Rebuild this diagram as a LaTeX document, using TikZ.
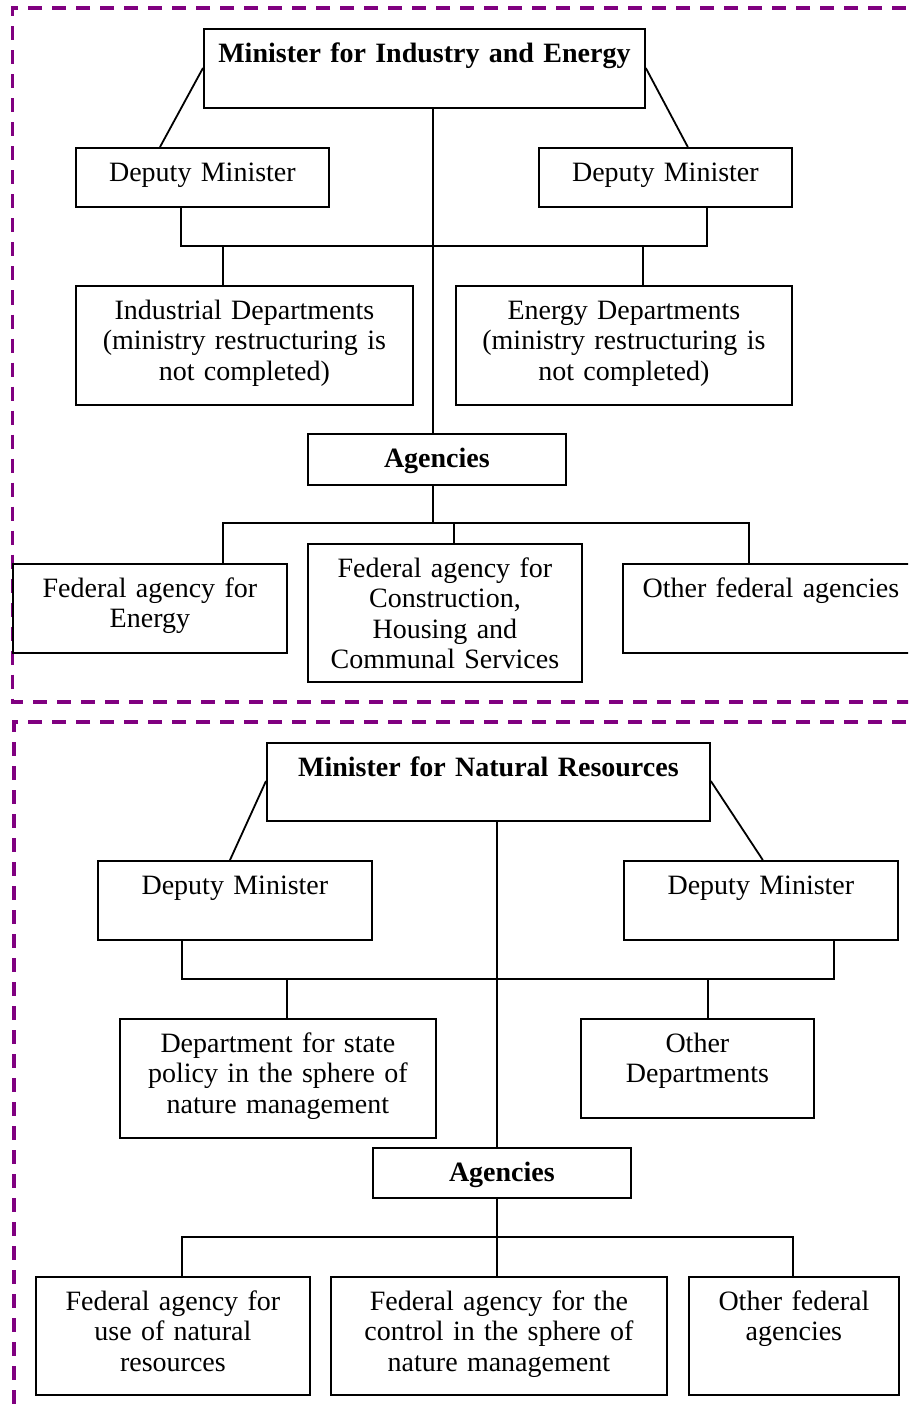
\documentclass[tikz,border=0pt]{standalone}
\usepackage{fontspec}
\setmainfont{Liberation Serif}
\definecolor{framepurple}{HTML}{800080}
\begin{document}
\begin{tikzpicture}[x=1pt,y=-1pt,
  every node/.style={font=\fontsize{28pt}{30.5pt}\selectfont},
  box/.style={draw, line width=1.8pt, fill=white, inner sep=0pt, anchor=north west, align=center, text height=33.5pt},
  conn/.style={line width=1.8pt},
  frame/.style={draw=framepurple, line width=3.3pt, dash pattern=on 14pt off 10pt}]
\useasboundingbox (0,0) rectangle (908,1412);
\clip (0,0) rectangle (908,1412);
% frames
\draw[frame] (930,8) -- (12.5,8) -- (12.5,702) -- (930,702);
\draw[frame] (930,722) -- (14,722) -- (14,1430);
% ---------- top section ----------
\node[box, text width=441pt, text depth=45.5pt] (mA) at (203,28) {\bfseries Minister for Industry and Energy};
\node[box, text width=253pt, text depth=25.5pt] (dA1) at (75,147) {Deputy Minister};
\node[box, text width=253pt, text depth=25.5pt] (dA2) at (538,147) {Deputy Minister};
\node[box, text width=337pt, text depth=85.5pt] (iA) at (75,285) {Industrial Departments\\(ministry restructuring is\\not completed)};
\node[box, text width=336pt, text depth=85.5pt] (eA) at (455,285) {Energy Departments\\(ministry restructuring is\\not completed)};
\node[box, text width=258pt, text depth=17.5pt] (agA) at (307,433) {\bfseries Agencies};
\node[box, text width=274pt, text depth=55.5pt] (f1A) at (12,563) {Federal agency for\\Energy};
\node[box, text width=274pt, text depth=104.5pt] (f2A) at (307,543) {Federal agency for\\Construction,\\Housing and\\Communal Services};
\node[box, text width=296pt, text depth=55.5pt] (f3A) at (622,563) {Other federal agencies};
\coordinate (cA) at (433,246);
\coordinate (bAL) at (181,246);
\coordinate (bAR) at (707,246);
\coordinate (tAI) at (223,246);
\coordinate (tAE) at (643,246);
\coordinate (gA) at (433,523);
\coordinate (gAL) at (223,523);
\coordinate (gAM) at (454,523);
\coordinate (gAR) at (749,523);
\draw[conn] ([yshift=-40pt]mA.north west) -- ([xshift=85pt]dA1.north west);
\draw[conn] ([yshift=-40pt]mA.north east) -- ([xshift=-105pt]dA2.north east);
\draw[conn] (mA.south -| cA) -- (agA.north -| cA);
\draw[conn] (dA1.south -| bAL) -- (bAL) -- (bAR) -- (dA2.south -| bAR);
\draw[conn] (tAI) -- (iA.north -| tAI);
\draw[conn] (tAE) -- (eA.north -| tAE);
\draw[conn] (agA.south -| gA) -- (gA);
\draw[conn] (f1A.north -| gAL) -- (gAL) -- (gAR) -- (f3A.north -| gAR);
\draw[conn] (gAM) -- (f2A.north -| gAM);
% ---------- bottom section ----------
\node[box, text width=443pt, text depth=44.5pt] (mB) at (266,742) {\bfseries Minister for Natural Resources};
\node[box, text width=274pt, text depth=45.5pt] (dB1) at (97,860) {Deputy Minister};
\node[box, text width=274pt, text depth=45.5pt] (dB2) at (623,860) {Deputy Minister};
\node[box, text width=316pt, text depth=85.5pt] (depB) at (119,1018) {Department for state\\policy in the sphere of\\nature management};
\node[box, text width=233pt, text depth=65.5pt] (othB) at (580,1018) {Other\\Departments};
\node[box, text width=258pt, text depth=16.5pt] (agB) at (372,1147) {\bfseries Agencies};
\node[box, text width=274pt, text depth=84.5pt] (fB1) at (35,1276) {Federal agency for\\use of natural\\resources};
\node[box, text width=336pt, text depth=84.5pt] (fB2) at (330,1276) {Federal agency for the\\control in the sphere of\\nature management};
\node[box, text width=210pt, text depth=84.5pt] (fB3) at (688,1276) {Other federal\\agencies};
\coordinate (cB) at (497,979);
\coordinate (bBL) at (182,979);
\coordinate (bBR) at (834,979);
\coordinate (tBD) at (287,979);
\coordinate (tBO) at (708,979);
\coordinate (gB) at (497,1237);
\coordinate (gBL) at (182,1237);
\coordinate (gBR) at (793,1237);
\draw[conn] ([yshift=-39pt]mB.north west) -- ([xshift=133pt]dB1.north west);
\draw[conn] ([yshift=-39pt]mB.north east) -- ([xshift=-136pt]dB2.north east);
\draw[conn] (mB.south -| cB) -- (agB.north -| cB);
\draw[conn] (dB1.south -| bBL) -- (bBL) -- (bBR) -- (dB2.south -| bBR);
\draw[conn] (tBD) -- (depB.north -| tBD);
\draw[conn] (tBO) -- (othB.north -| tBO);
\draw[conn] (agB.south -| gB) -- (gB);
\draw[conn] (fB1.north -| gBL) -- (gBL) -- (gBR) -- (fB3.north -| gBR);
\draw[conn] (gB) -- (fB2.north -| gB);
\end{tikzpicture}
\end{document}
